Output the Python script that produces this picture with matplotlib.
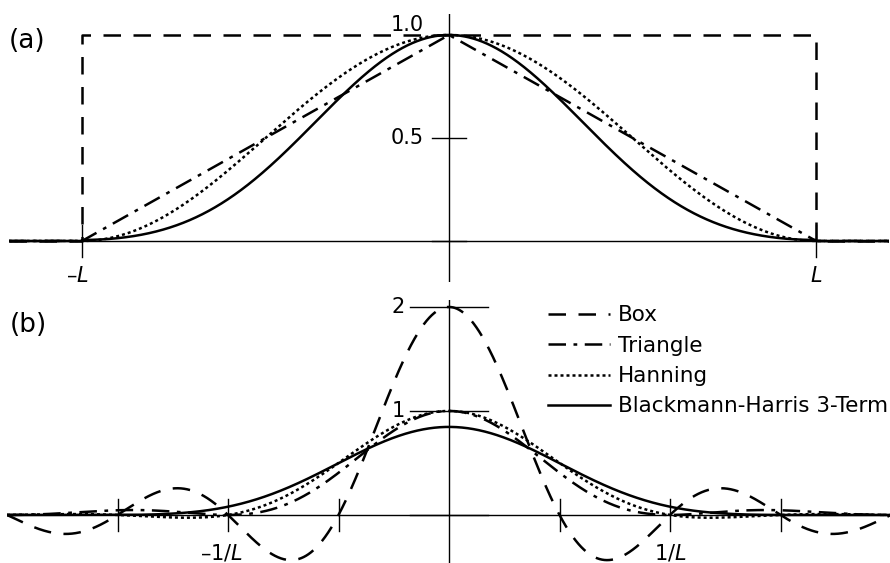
import numpy as np
import matplotlib
matplotlib.use("Agg")
import matplotlib.pyplot as plt

plt.rcParams['font.family'] = ['DejaVu Sans']
plt.rcParams['mathtext.fontset'] = 'dejavusans'

# half width of the apodization window (x in units of L, sigma in units of 1/L)
L = 1.0

# window names and cosine-series coefficients a0, a1, a2 for w(x) = sum a_k cos(k*pi*x/L)
names = ["Box", "Triangle", "Hanning", "Blackmann-Harris 3-Term"]
hanning_coef = [0.5, 0.5, 0.0]
bh3_coef = [0.42323, 0.49755, 0.07922]

# tick positions and labels
a_yticks = [0.0, 0.5, 1.0]
a_xticks = [-L, L]
a_xlabels = ["–$L$", "$L$"]
b_yticks = [0.0, 1.0, 2.0]
b_ylabels = ["", "1", "2"]
b_xticks = [-1.5, -1.0, -0.5, 0.5, 1.0, 1.5]
b_xlabels = {-1.0: "–1/$L$", 1.0: "1/$L$"}

styles = [
    dict(ls=(0, (7, 5))),
    dict(ls=(0, (7, 3, 1.5, 3))),
    dict(ls=(0, (1.2, 1.2))),
    dict(ls='-'),
]
LW = 1.8
AX_LW = 1.0

fig = plt.figure(figsize=(8.9, 5.63), dpi=100)

# ---------------- (a) apodization functions ----------------
ax1 = fig.add_axes([0.00966, 0.4988, 0.9897, 0.4757])
ax1.set_xlim(-1.2, 1.2)
ax1.set_ylim(-0.2, 1.1)
ax1.axis('off')

x = np.linspace(-1.2, 1.2, 4001)
inside = np.abs(x) <= L

def cos_window(coef, x):
    w = sum(c * np.cos(k * np.pi * x / L) for k, c in enumerate(coef))
    return np.where(np.abs(x) <= L, w, 0.0)

box_x = [-1.2, -L, -L, L, L, 1.2]
box_y = [0, 0, 1, 1, 0, 0]
tri_y = np.where(inside, 1 - np.abs(x) / L, 0.0)
han_y = cos_window(hanning_coef, x)
bh_y = cos_window(bh3_coef, x)

ax1.axhline(0, color='black', lw=AX_LW)
ax1.axvline(0, color='black', lw=AX_LW)
for yt in a_yticks:
    ax1.plot([-0.045, 0.045], [yt, yt], color='black', lw=AX_LW)
for xt in a_xticks:
    ax1.plot([xt, xt], [-0.078, 0.078], color='black', lw=AX_LW)

ax1.plot(box_x, box_y, color='black', lw=LW, **styles[0])
ax1.plot(x, tri_y, color='black', lw=LW, **styles[1])
ax1.plot(x, han_y, color='black', lw=LW, **styles[2])
ax1.plot(x, bh_y, color='black', lw=LW, **styles[3])

ax1.text(-0.068, 0.5, "0.5", ha='right', va='center', fontsize=15)
ax1.text(-0.068, 1.0, "1.0", ha='right', va='bottom', fontsize=15)
for xt, lab in zip(a_xticks, a_xlabels):
    off = -0.013 if xt < 0 else 0.0
    ax1.text(xt + off, -0.17, lab, ha='center', va='center', fontsize=15)
ax1.text(-1.15, 0.97, "(a)", ha='center', va='center', fontsize=19)

# ---------------- (b) instrument line shapes ----------------
ax2 = fig.add_axes([0.00787, 0.0004, 0.99326, 0.4673])
ax2.set_xlim(-2, 2)
ax2.set_ylim(-0.46, 2.07)
ax2.axis('off')

s = np.linspace(-2, 2, 4001)

def cos_transform(coef, s):
    f = 2 * coef[0] * L * np.sinc(2 * s * L)
    for k, c in enumerate(coef[1:], start=1):
        f = f + c * L * (np.sinc(2 * s * L - k) + np.sinc(2 * s * L + k))
    return f

box_f = 2 * L * np.sinc(2 * s * L)
tri_f = L * np.sinc(s * L) ** 2
han_f = cos_transform(hanning_coef, s)
bh_f = cos_transform(bh3_coef, s)

ax2.axhline(0, color='black', lw=AX_LW)
ax2.axvline(0, color='black', lw=AX_LW)
for yt, lab in zip(b_yticks, b_ylabels):
    ax2.plot([-0.176, 0.176], [yt, yt], color='black', lw=AX_LW)
    if lab:
        ax2.text(-0.2, yt, lab, ha='right', va='center', fontsize=15)
for xt in b_xticks:
    ax2.plot([xt, xt], [-0.155, 0.155], color='black', lw=AX_LW)
for xt, lab in b_xlabels.items():
    off = -0.03 if xt < 0 else 0.0
    ax2.text(xt + off, -0.37, lab, ha='center', va='center', fontsize=15)

for f, st, name in zip([box_f, tri_f, han_f, bh_f], styles, names):
    ax2.plot(s, f, color='black', lw=LW, label=name, **st)

ax2.text(-1.905, 1.83, "(b)", ha='center', va='center', fontsize=19)

ax2.legend(loc='upper left', bbox_to_anchor=(0.448, 2.015), bbox_transform=ax2.transData,
           frameon=False, fontsize=15.5, handlelength=2.9, handletextpad=0.33,
           labelspacing=0.48, borderpad=0, borderaxespad=0)

fig.savefig("out.png", dpi=100)
